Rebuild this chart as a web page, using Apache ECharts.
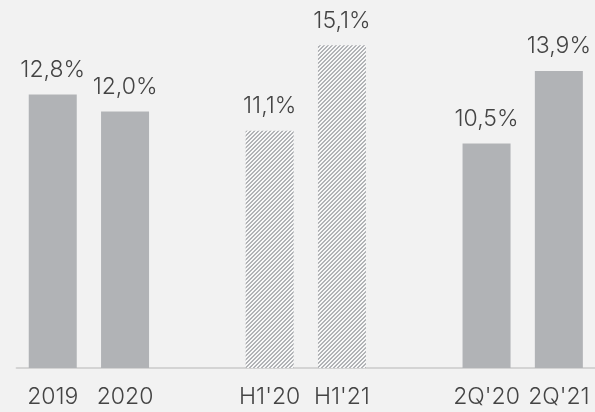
<!DOCTYPE html>
<html>
<head>
<meta charset="utf-8">
<script src="https://cdn.jsdelivr.net/npm/echarts@6/dist/echarts.min.js"></script>
<style>
  html, body { margin: 0; padding: 0; background: #f2f2f2; }
  #chart { width: 595px; height: 412px; }
</style>
</head>
<body>
<div id="chart"></div>
<script>
// Periods on the axis; empty strings leave a gap between the groups
const categories = ['2019', '2020', '', "H1'20", "H1'21", '', "2Q'20", "2Q'21"];
// Margin values in percent (null = spacer slot)
const values = [12.8, 12.0, null, 11.1, 15.1, null, 10.5, 13.9];
// Which slots are drawn with the striped fill (half-year figures)
const hatched = [false, false, false, true, true, false, false, false];

const BAR = '#b1b3b6';
const TEXT = '#444444';
const FONT = 'Inter, "Open Sans", sans-serif';

// Diagonal stripe tile used as a repeating pattern
function stripeTile() {
  const c = document.createElement('canvas');
  c.width = 4; c.height = 4;
  const ctx = c.getContext('2d');
  ctx.fillStyle = '#f8f8f8';
  ctx.fillRect(0, 0, 4, 4);
  ctx.fillStyle = BAR;
  for (let x = 0; x < 4; x++) {
    for (let y = 0; y < 4; y++) {
      if ((x + y) % 4 < 2) ctx.fillRect(x, y, 1, 1);
    }
  }
  return c;
}
const stripes = { image: stripeTile(), repeat: 'repeat' };

const fmt = v => v.toFixed(1).replace('.', ',') + '%';

const data = values.map((v, i) => v === null ? null : {
  value: v,
  itemStyle: { color: hatched[i] ? stripes : BAR }
});

const chart = echarts.init(document.getElementById('chart'));
chart.setOption({
  backgroundColor: '#f2f2f2',
  animation: false,
  grid: { left: 16.6, right: -3.4, top: 4.7, bottom: 44 },
  xAxis: {
    type: 'category',
    data: categories,
    axisLine: { show: true, lineStyle: { color: '#d4d4d4', width: 2 } },
    axisTick: { show: false },
    axisLabel: {
      color: TEXT, fontFamily: FONT, fontSize: 23, fontWeight: 300,
      margin: 18, interval: 0
    }
  },
  yAxis: {
    type: 'value', min: 0, max: 17,
    show: false,
    splitLine: { show: false }
  },
  series: [{
    type: 'bar',
    data: data,
    barWidth: 48,
    label: {
      show: true,
      position: 'top',
      distance: 13,
      color: TEXT, fontFamily: FONT, fontSize: 23, fontWeight: 300,
      formatter: p => fmt(p.value)
    }
  }]
});
</script>
</body>
</html>
